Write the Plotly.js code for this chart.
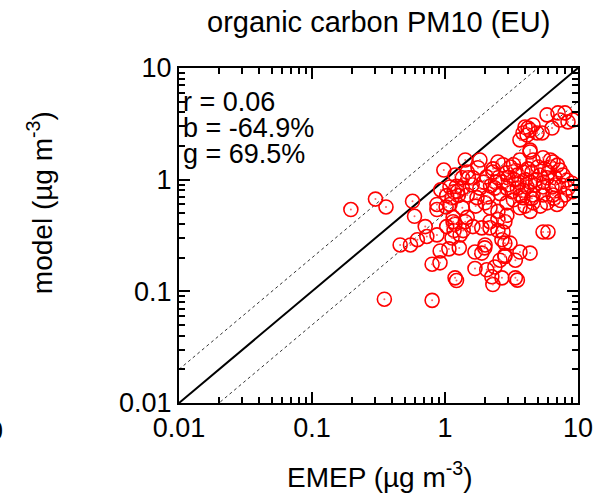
<!DOCTYPE html>
<html>
<head>
<meta charset="utf-8">
<script src="https://cdn.plot.ly/plotly-3.0.1.min.js"></script>
<style>html,body{margin:0;padding:0;background:#fff;}#chart{width:601px;height:497px;}</style>
</head>
<body>
<div id="chart"></div>
<script>
// EMEP observations (µg m-3)
var emepObs = [
  0.196,0.30,0.36,0.35,0.57,0.59,0.46,0.55,0.62,0.73,0.71,0.87,1.02,0.80,0.92,0.80,0.98,1.22,1.15,1.13,1.30,1.28,1.07,1.17,1.22,1.17,
  0.87,1.03,1.19,1.42,1.37,1.62,1.89,2.18,2.5,2.68,2.5,1.68,1.89,1.99,2.59,2.82,0.917,1.19,2.29,2.68,3.5,3.38,5.46,5.95,3.66,4.36,2.82,2.73,2.82,2.82,2.0,3.08,3.38,1.68,2.37,2.06,2.25,
  4.36,4.0,4.59,4.14,4.92,3.86,5.37,6.38,5.85,7.07,7.98,8.41,7.32,4.36,3.66,4.21,9.17,
  1.47,1.77,1.62,1.35,1.35,1.09,1.24,1.13,1.47,1.83,1.74,2.1,2.37,2.5,2.29,2.73,2.06,0.87,1.09,1.35,2.18,2.5,1.15,1.47,2.18,
  4.36,3.66,3.27,4.59,5.46,6.49,6.16,7.32,7.71,6.72,5.85,5.18,4.51,3.86,3.5,2.97,2.92,3.5,4.14,4.75,5.46,6.38,7.58,8.41,7.98,6.49,5.46,4.59,3.86,3.27,2.92,3.66,4.59,2.92,4.36,5.85,6.95,9.0,8.26,9.17,
  2.5,1.5,1.42,1.83,1.19,0.93,1.03,1.26,
  2.7,3.0,3.3,3.6,4.0,4.4,3.2,3.9,4.8,5.5,2.4,2.2,3.4,4.2,5.0,2.9,3.7,4.5,5.2,6.0,6.8,2.6,1.95,1.6,2.0,1.7,6.2,5.6,7.0,3.1,2.3,4.0,6.6,7.4
];
// Model values (µg m-3)
var modelVal = [
  0.54,0.67,0.57,0.085,0.64,0.47,0.26,0.26,0.29,0.31,0.38,0.54,0.57,0.175,0.23,0.083,1.22,0.125,0.42,0.30,0.32,0.245,0.24,0.78,0.87,0.35,
  0.32,0.38,0.40,0.42,0.35,0.38,0.37,0.37,0.35,0.29,0.44,0.225,0.22,0.245,0.19,0.21,0.18,0.132,0.115,0.132,0.126,0.132,0.34,0.34,0.225,0.22,0.42,0.34,0.27,0.205,0.26,0.27,0.19,0.16,0.165,0.156,0.135,
  2.78,2.96,3.09,2.51,2.62,2.62,2.62,2.90,3.80,3.96,3.96,3.29,3.42,1.77,2.27,2.90,3.42,
  1.17,1.28,1.04,1.04,0.84,0.86,0.78,0.69,0.73,0.84,0.69,0.70,0.84,1.04,1.17,1.36,1.06,0.60,0.60,0.56,0.56,0.52,0.46,0.46,0.42,
  1.84,1.50,1.36,1.50,1.57,1.44,1.30,1.22,1.10,1.04,1.04,1.10,1.17,1.17,1.10,1.04,0.84,0.84,0.86,0.89,0.86,0.86,0.89,0.84,0.73,0.73,0.73,0.73,0.69,0.66,0.62,0.56,0.62,0.48,0.52,0.62,0.60,0.93,0.99,0.78,
  1.44,1.04,1.50,1.50,1.10,0.81,0.72,0.72,
  0.95,0.90,1.0,0.95,1.0,0.95,0.78,0.80,1.0,0.95,0.95,0.88,1.2,1.25,1.3,1.15,0.72,0.68,0.58,1.15,0.90,0.75,0.95,0.90,0.62,0.58,1.5,1.25,1.35,1.3,1.25,0.58,0.68,0.65
];
// reference lines 1:1, 2:1, 1:2
var refX = [0.01, 10];
var oneToOne = [0.01, 10];
var twoToOne = [0.02, 20];
var oneToTwo = [0.005, 5];
var tickVals = [0.01, 0.1, 1, 10];
var tickText = ['0.01', '0.1', '1', '10'];
var minorTickVals = [0.02,0.03,0.04,0.05,0.06,0.07,0.08,0.09,
                     0.2,0.3,0.4,0.5,0.6,0.7,0.8,0.9,
                     2,3,4,5,6,7,8,9];
var statsText = ['r = 0.06', 'b = -64.9%', 'g = 69.5%'];
var titleText = 'organic carbon PM10 (EU)';
var xTitle = 'EMEP (µg m<sup>-3</sup>)';
var yTitle = 'model (µg m<sup>-3</sup>)';

var font = 'Liberation Sans, Arial, sans-serif';

var traces = [
  {x: refX, y: twoToOne, mode: 'lines', line: {color: '#333', width: 1, dash: 'dot'}, hoverinfo: 'skip', showlegend: false},
  {x: refX, y: oneToTwo, mode: 'lines', line: {color: '#333', width: 1, dash: 'dot'}, hoverinfo: 'skip', showlegend: false},
  {x: refX, y: oneToOne, mode: 'lines', line: {color: '#000', width: 2}, hoverinfo: 'skip', showlegend: false},
  {x: emepObs, y: modelVal, mode: 'markers', marker: {symbol: 'circle-open', size: 14, color: '#ff0000', line: {width: 1.6, color: '#ff0000'}}, showlegend: false},
  {x: emepObs, y: modelVal, mode: 'markers', marker: {symbol: 'circle', size: 2, color: '#ff6060'}, showlegend: false, hoverinfo: 'skip'}
];

var axisCommon = {
  type: 'log',
  range: [-2, 1],
  tickmode: 'array',
  tickvals: tickVals,
  ticktext: tickText,
  ticks: 'inside',
  ticklen: 11,
  tickwidth: 2,
  tickcolor: '#000',
  showline: true,
  linecolor: '#000',
  linewidth: 2,
  mirror: 'ticks',
  showgrid: false,
  zeroline: false,
  tickfont: {family: font, size: 27, color: '#000'},
  minor: {tickmode: 'array', tickvals: minorTickVals, ticks: 'inside', ticklen: 6, tickwidth: 2, tickcolor: '#000', showgrid: false}
};

var ann = function (x, y, text, xa, ya, size, angle) {
  return {xref: 'paper', yref: 'paper', x: x, y: y, xanchor: xa, yanchor: ya, showarrow: false,
          text: text, textangle: angle || 0, font: {family: font, size: size, color: '#000'}};
};

// plot area: x 179..578, y 68..403 (width 399, height 335)
var layout = {
  width: 601,
  height: 497,
  margin: {l: 179, r: 23, t: 68, b: 94},
  paper_bgcolor: '#fff',
  plot_bgcolor: '#fff',
  showlegend: false,
  xaxis: Object.assign({}, axisCommon),
  yaxis: Object.assign({}, axisCommon, {ticksuffix: '\u00a0\u00a0\u00a0\u2009'}),
  annotations: [
    ann(0.499, 1.137, titleText, 'center', 'middle', 29),
    ann(0.503, -0.215, xTitle, 'center', 'middle', 28),
    ann(-0.348, 0.597, yTitle, 'center', 'middle', 28, -90),
    ann(0.005, 0.899, statsText[0], 'left', 'middle', 27),
    ann(0.005, 0.822, statsText[1], 'left', 'middle', 27),
    ann(0.005, 0.743, statsText[2], 'left', 'middle', 27),
    ann(-0.435, -0.085, '10', 'right', 'middle', 27)
  ]
};

Plotly.newPlot('chart', traces, layout, {staticPlot: true, displayModeBar: false});
</script>
</body>
</html>
